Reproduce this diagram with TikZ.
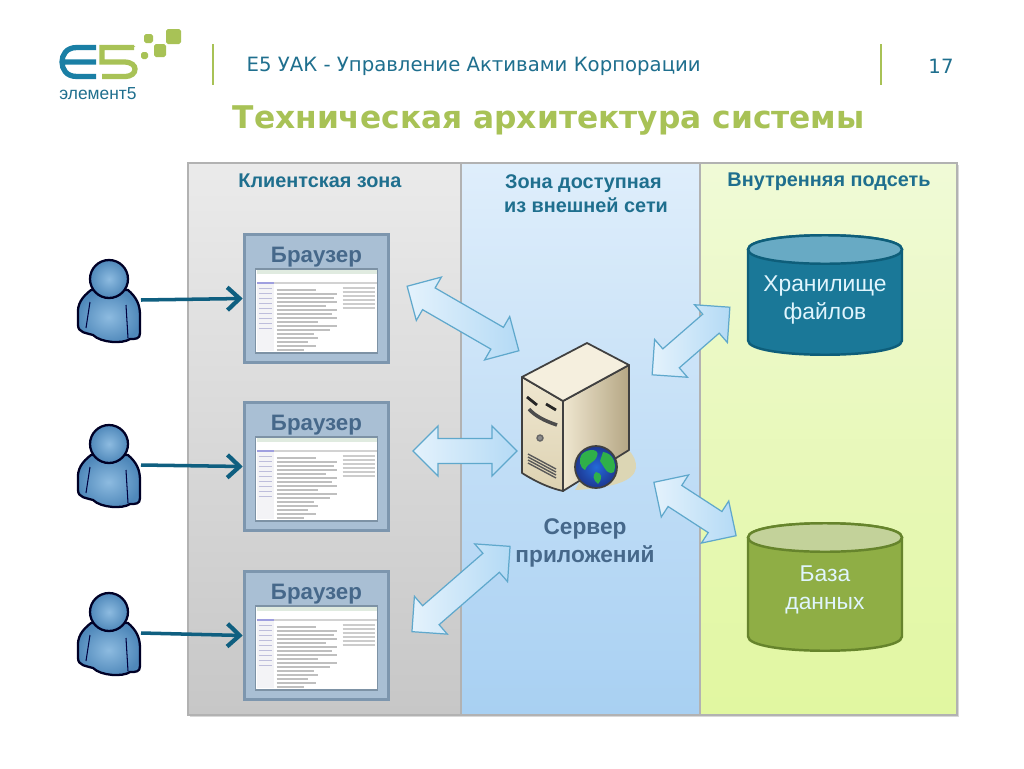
\documentclass[tikz,border=0pt]{standalone}
\usepackage{fontspec}
\setmainfont{Liberation Sans}
\newfontfamily\headfont{DejaVu Sans}
\usetikzlibrary{arrows.meta,shapes.arrows,shadows}

\definecolor{tealtext}{HTML}{1F6F8E}
\definecolor{logogreen}{HTML}{A8C256}
\definecolor{logoblue}{HTML}{1A7FA5}
\definecolor{slatetext}{HTML}{46688A}
\definecolor{linkblue}{HTML}{0F5F80}
\definecolor{boxfill}{HTML}{A9BFD4}
\definecolor{boxline}{HTML}{7D96AE}
\definecolor{arrowline}{HTML}{5FA8CC}
\definecolor{arrowlight}{HTML}{E4F2FC}
\definecolor{arrowdark}{HTML}{B4DAF5}
\definecolor{userlight}{HTML}{8DBBE0}
\definecolor{userdark}{HTML}{4F88BA}
\definecolor{dmztop}{HTML}{DFEEFB}
\definecolor{dmzbottom}{HTML}{A8D0F2}
\definecolor{innertop}{HTML}{F0FAD7}
\definecolor{innerbottom}{HTML}{E1F7A0}
\definecolor{srvfront}{HTML}{DDD2B2}
\definecolor{srvside}{HTML}{EFE7D0}
\definecolor{srvshade}{HTML}{B5A684}
\definecolor{srvtop}{HTML}{F5EFDE}
\definecolor{srvfoot}{HTML}{DCD6B4}
\definecolor{storeblue}{HTML}{1A7898}
\definecolor{storebluetop}{HTML}{68AAC4}
\definecolor{storebluedraw}{HTML}{0E5E7A}
\definecolor{storegreen}{HTML}{8FAE45}
\definecolor{storegreentop}{HTML}{C3D29A}
\definecolor{storegreendraw}{HTML}{66842C}
\definecolor{globeblue}{HTML}{2A4FD0}
\definecolor{globeland}{HTML}{2FB04A}
\newcommand{\pxu}{0.02cm}
\newcommand{\fs}[1]{\fontsize{#1}{#1}\selectfont}

\tikzset{
    zonehead/.style={text=tealtext, font=\bfseries\fs{11.3}, align=center},
    browserbox/.style={draw=boxline, line width=2pt, fill=boxfill,
        minimum width=144*\pxu, minimum height=128*\pxu, inner sep=0pt},
    browsertitle/.style={text=slatetext, font=\bfseries\fs{12.7}},
    userlink/.style={->, line width=2pt, linkblue, >={Straight Barb[length=7pt,width=13pt,line width=2.4pt]}},
    dblarrow/.style={draw=arrowline, line width=0.7pt, shape=double arrow, inner xsep=0pt, inner ysep=6.8pt,
        double arrow tip angle=90, minimum width=27pt, left color=arrowlight, right color=arrowdark},
    storelabel/.style={text=white!88!cyan, font=\fs{13}, align=center},
    userbody/.style={draw=black!85!blue, line width=1.3pt, inner color=userlight, outer color=userdark},
    pics/person/.style={code={
        \shade[userbody] (-18,11) .. controls (-27,18) and (-32,25) .. (-31,36) -- (-31,46)
            .. controls (-31,54) and (-22,54) .. (-16,56) .. controls (-8,64) and (14,65) .. (21,60)
            .. controls (27,60) and (31,60) .. (31,54) -- (31,36) .. controls (31,25) and (27,18) .. (19,11) -- cycle;
        \draw[black!75!blue, line width=0.6pt] (-19,23) -- (-23,49) (17,26) -- (19,59);
        \shade[userbody] (0,0) circle (19);
    }},
    pics/shot/.style={code={
        \fill[white] (0,0) rectangle (122,84);
        \draw[boxline!80!gray, line width=0.9pt] (0,0) rectangle (122,84);
        \fill[green!20!gray!20] (1,1) rectangle (121,5);
        \fill[gray!35] (18,13) rectangle (121,14.5);
        \fill[blue!50!gray!50] (1,13) rectangle (18,15);
        \fill[blue!15!gray!8] (1,15) rectangle (18,82);
        \foreach \k in {19,24,...,59} {
            \draw[blue!30!gray!40, line width=0.5pt] (3,\k) -- (16,\k);
        }
        \foreach \k/\e in {21/60,25/81,29/78,33/81,37/70,41/81,45/76,49/81,53/62,57/81,61/74,65/58,69/62,73/52,77/60,81/48} {
            \draw[gray!50, line width=0.6pt] (21,\k) -- (\e,\k);
        }
        \foreach \k in {19,23,...,39} {
            \draw[gray!40, line width=0.6pt] (87,\k) -- (119,\k);
        }
    }}
}

\begin{document}
\begin{tikzpicture}[>=Stealth, thick, x=0.02cm, y=-0.02cm]
    \useasboundingbox (0,0) rectangle (1024,768);
    \fill[white] (0,0) rectangle (1024,768);

    % логотип
    \draw[logoblue, line width=3pt] (96,47.5) -- (77,47.5) .. controls (66,47.5) and (62,55) .. (62,62)
        .. controls (62,69) and (66,76.5) .. (77,76.5) -- (96,76.5) (63,62) -- (96,62);
    \draw[logogreen, line width=3pt] (134,47.5) -- (102,47.5) -- (102,62) -- (124,62)
        .. controls (132,62) and (135,66) .. (135,69) .. controls (135,73) and (132,76.5) .. (124,76.5) -- (102,76.5);
    \fill[logogreen, rounded corners=1pt] (144,34) rectangle (153,43) (166,29) rectangle (181,44)
        (154,44) rectangle (166,57) (141,52) rectangle (148,59) (132,45) rectangle (135,48);
    \node[text=tealtext, font=\fs{9.9}] (logotext) at (98,94) {элемент5};

    % шапка
    \draw[logogreen, line width=1pt] (213,44) -- (213,85) (881,44) -- (881,85);
    \node[text=tealtext, font=\headfont\fs{11.2}, anchor=west, inner sep=0pt] (subtitle) at (246,66) {E5 УАК - Управление Активами Корпорации};
    \node[text=tealtext, font=\headfont\fs{11.2}] (pageno) at (941,66) {17};
    \node[text=logogreen, font=\headfont\bfseries\fs{17.8}, anchor=west, inner sep=0pt] (title) at (232,120) {Техническая архитектура системы};

    % зоны
    \fill[black!35, drop shadow={shadow xshift=1pt, shadow yshift=-1pt, opacity=.3}] (188,163) rectangle (957,715);
    \shade[top color=black!8, bottom color=black!22] (188,163) rectangle (461,715);
    \shade[top color=dmztop, bottom color=dmzbottom] (461,163) rectangle (700,715);
    \shade[top color=innertop, bottom color=innerbottom] (700,163) rectangle (957,715);
    \draw[black!30, line width=0.6pt] (188,163) rectangle (957,715) (461,163) -- (461,715) (700,163) -- (700,715);
    \node[zonehead] (clientzone) at (320,181) {Клиентская зона};
    \node[zonehead] (dmzone) at (586,193.5) {Зона доступная\hspace*{3pt}\\[2pt] из внешней сети};
    \node[zonehead] (innerzone) at (829,181.5) {Внутренняя подсеть};

    % браузеры
    \foreach \n/\y in {1/298.5, 2/466.5, 3/635.5} {
        \node[browserbox] (browser\n) at (316.5,\y) {};
        \node[browsertitle] (browsertitle\n) at (316.5,\y-41.5) {Браузер};
        \pic at (255.5,\y-29.5) {shot};
    }

    % пользователи
    \foreach \n/\y/\t in {1/279/300, 2/444/465, 3/612/633} {
        \pic at (109,\y) {person};
        \coordinate (user\n) at (141,\t);
        \draw[userlink] (user\n) -- (browser\n.west);
    }

    % сервер
    \fill[srvfoot] (600,445) .. controls (625,440) and (637,455) .. (636,468)
        .. controls (634,482) and (610,488) .. (575,490) -- cycle;
    \shade[top color=srvside, bottom color=srvfront, draw=black!75, line width=1pt, line join=round]
        (522,377) -- (563,401) -- (563,491) .. controls (545,487) and (530,478) .. (522,473) -- cycle;
    \shade[left color=srvside, right color=srvshade, draw=black!75, line width=1pt, line join=round]
        (563,401) -- (629,365) -- (629,450) -- (563,491) -- cycle;
    \fill[srvtop, draw=black!75, line width=1pt, line join=round]
        (522,377) -- (587,343) -- (629,365) -- (563,401) -- cycle;
    \draw[black!85, line width=1.6pt] (527,397) -- (537,405) (546,404) -- (556,410);
    \draw[black!70, line width=2pt] (529,409) .. controls (535,416) and (545,421) .. (557,425);
    \draw[black!60, line width=0.8pt, fill=black!45] (540,438) circle (3);
    \foreach \k in {0,6,12,18} {
        \draw[black!65, line width=0.8pt] (528,454+\k/2) -- (556,469+\k/2);
    }

    % глобус
    \shade[inner color=globeblue!85!cyan, outer color=globeblue!70!black, draw=black!75, line width=1pt] (596,467) circle (21);
    \fill[globeland] (582,454) .. controls (590,447) and (600,450) .. (597,456)
        .. controls (595,463) and (588,462) .. (585,470) .. controls (580,468) and (578,460) .. (582,454) -- cycle
        (603,452) .. controls (612,453) and (617,462) .. (614,472) .. controls (607,476) and (604,466) .. (600,461) -- cycle
        (596,472) .. controls (602,473) and (603,478) .. (598,484) .. controls (593,480) and (592,475) .. (596,472) -- cycle;

    \node[text=slatetext, font=\bfseries\fs{12.9}, align=center] (server) at (585,543) {Сервер\\[3pt]приложений};

    % двойные стрелки
    \node[dblarrow, minimum height=129*\pxu, rotate=-30] (arrow1) at (463,318.5) {};
    \node[dblarrow, minimum height=104*\pxu] (arrow2) at (465,451) {};
    \node[dblarrow, minimum height=130*\pxu, rotate=41] (arrow3) at (461,589) {};
    \node[dblarrow, minimum height=103*\pxu, rotate=41] (arrow4) at (691,341) {};
    \node[dblarrow, minimum height=98*\pxu, rotate=-33] (arrow5) at (695,509) {};

    % хранилища
    \foreach \T/\B/\col in {249.5/340.5/storeblue, 537.5/636.5/storegreen} {
        \draw[fill=\col, draw=\col draw, line width=1.4pt]
            (748,\T) -- (748,\B) .. controls (748,\B+19) and (902,\B+19) .. (902,\B) -- (902,\T)
            .. controls (902,\T-19) and (748,\T-19) .. cycle;
        \draw[fill=\col top, draw=\col draw, line width=1.4pt]
            (748,\T) .. controls (748,\T+19) and (902,\T+19) .. (902,\T)
            .. controls (902,\T-19) and (748,\T-19) .. cycle;
    }
    \node[storelabel] (fileslabel) at (825,300) {Хранилище\\[3pt]файлов};
    \node[storelabel] (databaselabel) at (825,590) {База\\[3pt]данных};
\end{tikzpicture}
\end{document}
